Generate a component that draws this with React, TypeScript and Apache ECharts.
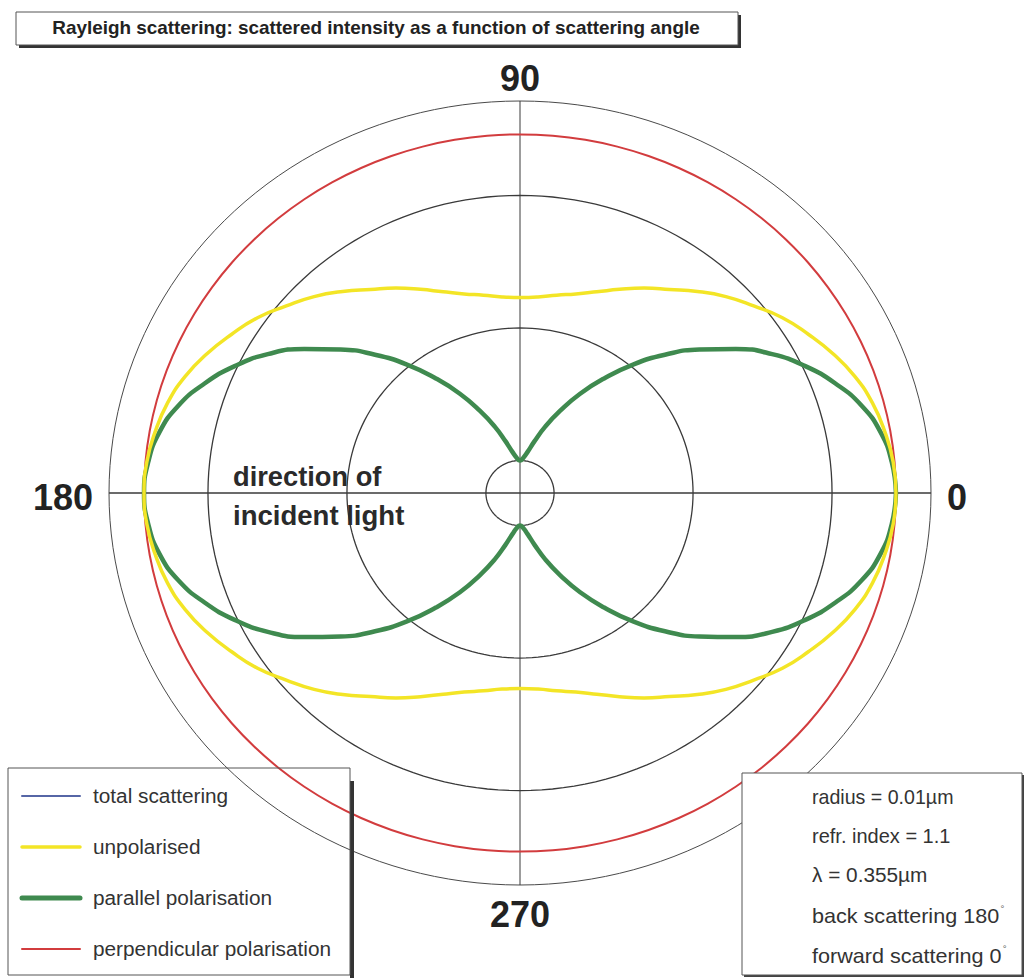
import React, { useEffect, useRef } from "react";
import * as echarts from "echarts";

// Scattering angle (degrees), 0 = forward, 180 = back scattering, 5° steps
const ANGLES = [
  0, 5, 10, 15, 20, 25, 30, 35, 40, 45, 50, 55, 60, 65, 70, 75, 80, 85, 90,
  95, 100, 105, 110, 115, 120, 125, 130, 135, 140, 145, 150, 155, 160, 165, 170, 175, 180,
  185, 190, 195, 200, 205, 210, 215, 220, 225, 230, 235, 240, 245, 250, 255, 260, 265, 270,
  275, 280, 285, 290, 295, 300, 305, 310, 315, 320, 325, 330, 335, 340, 345, 350, 355, 360,
];

// Scattered intensity (arbitrary units)
const UNPOLARISED = [
  2.46, 2.45, 2.42, 2.38, 2.32, 2.24, 2.15, 2.06, 1.95, 1.85, 1.74, 1.63, 1.54, 1.45, 1.37, 1.31, 1.27, 1.24, 1.23,
  1.24, 1.27, 1.31, 1.37, 1.45, 1.54, 1.63, 1.74, 1.85, 1.95, 2.06, 2.15, 2.24, 2.32, 2.38, 2.42, 2.45, 2.46,
  2.45, 2.42, 2.38, 2.32, 2.24, 2.15, 2.06, 1.95, 1.85, 1.74, 1.63, 1.54, 1.45, 1.37, 1.31, 1.27, 1.24, 1.23,
  1.24, 1.27, 1.31, 1.37, 1.45, 1.54, 1.63, 1.74, 1.85, 1.95, 2.06, 2.15, 2.24, 2.32, 2.38, 2.42, 2.45, 2.46,
];
// total scattering coincides with the unpolarised curve (hidden beneath it)
const TOTAL = [
  2.46, 2.45, 2.42, 2.38, 2.32, 2.24, 2.15, 2.06, 1.95, 1.85, 1.74, 1.63, 1.54, 1.45, 1.37, 1.31, 1.27, 1.24, 1.23,
  1.24, 1.27, 1.31, 1.37, 1.45, 1.54, 1.63, 1.74, 1.85, 1.95, 2.06, 2.15, 2.24, 2.32, 2.38, 2.42, 2.45, 2.46,
  2.45, 2.42, 2.38, 2.32, 2.24, 2.15, 2.06, 1.95, 1.85, 1.74, 1.63, 1.54, 1.45, 1.37, 1.31, 1.27, 1.24, 1.23,
  1.24, 1.27, 1.31, 1.37, 1.45, 1.54, 1.63, 1.74, 1.85, 1.95, 2.06, 2.15, 2.24, 2.32, 2.38, 2.42, 2.45, 2.46,
];
const PARALLEL = [
  2.46, 2.44, 2.39, 2.30, 2.17, 2.02, 1.85, 1.65, 1.44, 1.23, 1.02, 0.81, 0.62, 0.44, 0.29, 0.16, 0.07, 0.02, 0.0,
  0.02, 0.07, 0.16, 0.29, 0.44, 0.62, 0.81, 1.02, 1.23, 1.44, 1.65, 1.85, 2.02, 2.17, 2.30, 2.39, 2.44, 2.46,
  2.44, 2.39, 2.30, 2.17, 2.02, 1.85, 1.65, 1.44, 1.23, 1.02, 0.81, 0.62, 0.44, 0.29, 0.16, 0.07, 0.02, 0.0,
  0.02, 0.07, 0.16, 0.29, 0.44, 0.62, 0.81, 1.02, 1.23, 1.44, 1.65, 1.85, 2.02, 2.17, 2.30, 2.39, 2.44, 2.46,
];
const PERPENDICULAR = [
  2.46, 2.46, 2.46, 2.46, 2.46, 2.46, 2.46, 2.46, 2.46, 2.46, 2.46, 2.46, 2.46, 2.46, 2.46, 2.46, 2.46, 2.46, 2.46,
  2.46, 2.46, 2.46, 2.46, 2.46, 2.46, 2.46, 2.46, 2.46, 2.46, 2.46, 2.46, 2.46, 2.46, 2.46, 2.46, 2.46, 2.46,
  2.46, 2.46, 2.46, 2.46, 2.46, 2.46, 2.46, 2.46, 2.46, 2.46, 2.46, 2.46, 2.46, 2.46, 2.46, 2.46, 2.46, 2.46,
  2.46, 2.46, 2.46, 2.46, 2.46, 2.46, 2.46, 2.46, 2.46, 2.46, 2.46, 2.46, 2.46, 2.46, 2.46, 2.46, 2.46, 2.46,
];

// Radial axis: value at the centre, the grid rings, and the outer edge
const RADIAL_MIN = -0.245;
const RADIAL_MAX = 2.712;
const RING_VALUES = [0, 1, 2];

// Direction labels
const DIRECTION_LABELS = ["0", "90", "180", "270"];

const LEGEND_NAMES = ["total scattering", "unpolarised", "parallel polarisation", "perpendicular polarisation"];
const INFO_LINES = ["radius = 0.01\u00b5m", "refr. index = 1.1", "\u03bb = 0.355\u00b5m", "back scattering 180", "forward scattering 0"];

const FONT = "'Liberation Sans', Arial, Helvetica, sans-serif";
const C_TOTAL = "#5666a6";
const C_YELLOW = "#f3e526";
const C_GREEN = "#3f8a4f";
const C_RED = "#d23c3e";
const C_GRID = "#3a3a3a";

function toXY(angleDeg: number, value: number): [number, number] {
  const rho = value - RADIAL_MIN;
  const a = (angleDeg * Math.PI) / 180;
  return [rho * Math.cos(a), rho * Math.sin(a)];
}

function curve(values: number[]) {
  return ANGLES.map((a, i) => toXY(a, values[i]));
}

function ring(value: number) {
  const pts: [number, number][] = [];
  for (let a = 0; a <= 360; a += 2) pts.push(toXY(a, value));
  return pts;
}

export default function App() {
  const ref = useRef<HTMLDivElement>(null);

  useEffect(() => {
    if (!ref.current) return;
    const chart = echarts.init(ref.current, null, { renderer: "svg" });
    const EXT = RADIAL_MAX - RADIAL_MIN;

    const gridLine = (data: [number, number][], width: number, color = C_GRID) => ({
      type: "line",
      data,
      showSymbol: false,
      silent: true,
      clip: false,
      lineStyle: { color, width },
      z: 1,
    });

    const gridSeries: any[] = [
      ...RING_VALUES.map((v) => gridLine(ring(v), 1.3)),
      gridLine(ring(RADIAL_MAX), 1, "#4a4a4a"),
      gridLine([toXY(0, RADIAL_MAX), toXY(180, RADIAL_MAX)], 1.3),
      gridLine([toXY(90, RADIAL_MAX), toXY(270, RADIAL_MAX)], 1),
    ];

    const dataSeries: any[] = [
      { name: LEGEND_NAMES[0], data: curve(TOTAL), color: C_TOTAL, width: 1.5 },
      { name: LEGEND_NAMES[3], data: curve(PERPENDICULAR), color: C_RED, width: 2 },
      { name: LEGEND_NAMES[2], data: curve(PARALLEL), color: C_GREEN, width: 4.5 },
      { name: LEGEND_NAMES[1], data: curve(UNPOLARISED), color: C_YELLOW, width: 3.5 },
    ].map((s, i) => ({
      type: "line",
      name: s.name,
      data: s.data,
      smooth: 0.5,
      showSymbol: false,
      clip: false,
      lineStyle: { color: s.color, width: s.width, join: "round" },
      itemStyle: { color: s.color },
      z: 3 + i,
    }));

    const dirPos: Record<string, [number, number]> = {
      "0": [957, 497],
      "90": [520, 78],
      "180": [63, 497],
      "270": [520, 914],
    };

    const legendY = [796, 847, 898, 949];
    const legendColors = [C_TOTAL, C_YELLOW, C_GREEN, C_RED];
    const legendWidths = [2, 3.5, 5, 2];
    const infoY = [797, 836, 875, 916, 956];
    const infoScale = [0.98, 1.0, 1.04, 1.08, 1.08];

    const graphics: any[] = [
      // title box
      { type: "rect", shape: { x: 19, y: 15, width: 722, height: 33 }, style: { fill: "#333" }, z: 10 },
      { type: "rect", shape: { x: 16, y: 12, width: 722, height: 33 }, style: { fill: "#fff", stroke: "#555", lineWidth: 1 }, z: 11 },
      {
        type: "text",
        x: 376,
        y: 28,
        scaleX: 1.05,
        style: {
          text: "Rayleigh scattering: scattered intensity as a function of scattering angle",
          fill: "#222",
          font: `bold 18px ${FONT}`,
          textAlign: "center",
          textVerticalAlign: "middle",
        },
        z: 12,
      },
      ...DIRECTION_LABELS.map((t) => ({
        type: "text",
        x: dirPos[t][0],
        y: dirPos[t][1],
        style: { text: t, fill: "#222", font: `bold 36px ${FONT}`, textAlign: "center", textVerticalAlign: "middle" },
        z: 12,
      })),
      {
        type: "text",
        x: 233,
        y: 477,
        scaleX: 1.01,
        style: { text: "direction of", fill: "#2a2a2a", font: `bold 27px ${FONT}`, textAlign: "left", textVerticalAlign: "middle" },
        z: 12,
      },
      {
        type: "text",
        x: 233,
        y: 516,
        scaleX: 1.02,
        style: { text: "incident light", fill: "#2a2a2a", font: `bold 27px ${FONT}`, textAlign: "left", textVerticalAlign: "middle" },
        z: 12,
      },
      // legend box
      { type: "rect", shape: { x: 350, y: 781, width: 4, height: 197 }, style: { fill: "#333" }, z: 10 },
      { type: "rect", shape: { x: 8, y: 768, width: 342, height: 207 }, style: { fill: "rgba(255,255,255,0)", stroke: "#555", lineWidth: 1 }, z: 11 },
      ...LEGEND_NAMES.flatMap((name, i) => [
        {
          type: "line",
          shape: { x1: 22, y1: legendY[i], x2: 80, y2: legendY[i] },
          style: { stroke: legendColors[i], lineWidth: legendWidths[i], lineCap: "round" },
          z: 12,
        },
        {
          type: "text",
          x: 93,
          y: legendY[i],
          scaleX: 1.04,
          style: { text: name, fill: "#333", font: `20px ${FONT}`, textAlign: "left", textVerticalAlign: "middle" },
          z: 12,
        },
      ]),
      // info box
      { type: "rect", shape: { x: 744, y: 775, width: 280, height: 202 }, style: { fill: "#444" }, z: 10 },
      { type: "rect", shape: { x: 742, y: 773, width: 280, height: 202 }, style: { fill: "#fff", stroke: "#555", lineWidth: 1 }, z: 11 },
      ...INFO_LINES.map((t, i) => ({
        type: "text",
        x: 812,
        y: infoY[i],
        scaleX: infoScale[i],
        style: {
          text: i >= 3 ? `{a|${t}}{s|\u00b0}` : t,
          fill: "#333",
          font: `20px ${FONT}`,
          textAlign: "left",
          textVerticalAlign: "middle",
          rich: {
            a: { fontSize: 20, fontFamily: FONT, fill: "#333" },
            s: { fontSize: 9, fontFamily: FONT, fill: "#555", padding: [0, 0, 14, 1] },
          },
        },
        z: 12,
      })),
    ];

    chart.setOption({
      animation: false,
      backgroundColor: "#fff",
      grid: { left: 109, top: 101, width: 822, height: 784, containLabel: false },
      xAxis: { type: "value", min: -EXT, max: EXT, show: false },
      yAxis: { type: "value", min: -EXT, max: EXT, show: false },
      tooltip: { show: false },
      series: [...gridSeries, ...dataSeries],
      graphic: graphics,
    });

    return () => chart.dispose();
  }, []);

  return (
    <div style={{ position: "absolute", left: 0, top: 0, width: 1025, height: 978, overflow: "hidden" }}>
      <div ref={ref} style={{ width: 1025, height: 978, background: "#fff" }} />
    </div>
  );
}
